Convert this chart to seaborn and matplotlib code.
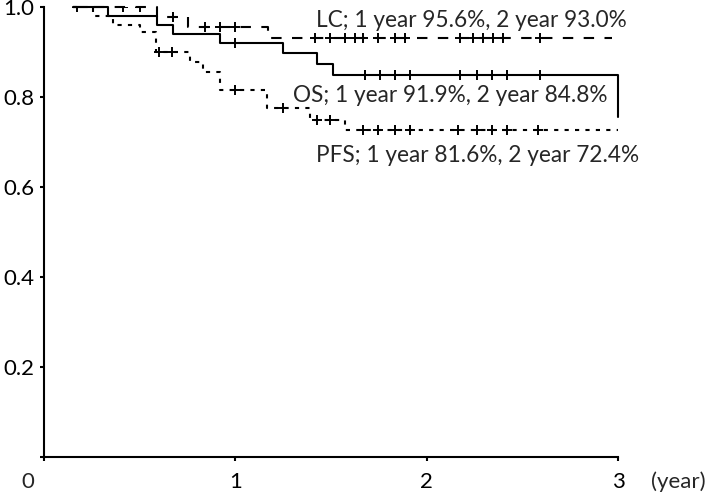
import numpy as np
import pandas as pd
import matplotlib
matplotlib.use("Agg")
import matplotlib.pyplot as plt
import seaborn as sns

# Kaplan-Meier steps (time in years, survival after the step)
os_time = [0.15, 0.335, 0.59, 0.674, 0.92, 1.249, 1.427, 1.51, 3.0]
os_surv = [1.0, 0.98, 0.96, 0.941, 0.919, 0.897, 0.873, 0.848, 0.756]
os_cens = [0.172, 0.998, 1.678, 1.756, 1.835, 1.913, 2.175, 2.263, 2.342, 2.42, 2.593]

lc_time = [0.15, 0.59, 0.753, 1.171, 2.97]
lc_surv = [1.0, 0.978, 0.956, 0.93, 0.93]
lc_cens = [0.256, 0.413, 0.502, 0.674, 0.842, 0.92, 0.998, 1.417, 1.495, 1.573,
           1.626, 1.668, 1.746, 1.835, 1.887, 2.175, 2.243, 2.295, 2.347, 2.399, 2.593]

pfs_time = [0.15, 0.256, 0.36, 0.502, 0.585, 0.763, 0.831, 0.92, 1.166, 1.39, 1.573, 3.0]
pfs_surv = [1.0, 0.98, 0.96, 0.944, 0.9, 0.878, 0.856, 0.816, 0.776, 0.749, 0.727, 0.727]
pfs_cens = [0.6, 0.669, 0.998, 1.249, 1.427, 1.495, 1.668, 1.746, 1.835, 1.913,
            2.164, 2.263, 2.342, 2.42, 2.582]

labels = {
    "LC": "LC; 1 year 95.6%, 2 year 93.0%",
    "OS": "OS; 1 year 91.9%, 2 year 84.8%",
    "PFS": "PFS; 1 year 81.6%, 2 year 72.4%",
}

sns.set_theme(style="ticks")
plt.rcParams["font.family"] = ["Lato", "DejaVu Sans"]

fig = plt.figure(figsize=(7.09, 4.94), dpi=100)
ax = fig.add_axes([44 / 709, 1 - 457 / 494, (618 - 44) / 709, (457 - 7) / 494])


def step_value(times, surv, t):
    i = np.searchsorted(times, t, side="right") - 1
    return surv[max(i, 0)]


curves = [
    ("LC", lc_time, lc_surv, lc_cens, (5, 5)),
    ("OS", os_time, os_surv, os_cens, None),
    ("PFS", pfs_time, pfs_surv, pfs_cens, (2, 3)),
]

for name, t, s, c, dash in curves:
    df = pd.DataFrame({"time": t, "surv": s})
    kw = dict(color="black", lw=1.5, drawstyle="steps-post", clip_on=False)
    if dash is not None:
        kw["dashes"] = dash
    sns.lineplot(data=df, x="time", y="surv", estimator=None, sort=False, ax=ax, **kw)
    cy = [step_value(t, s, x) for x in c]
    ax.plot(c, cy, linestyle="none", marker="+", ms=7, mew=1.4, color="black")

ax.set_xlim(0, 3)
ax.set_ylim(0, 1.0)
ax.set_xticks([0, 1, 2, 3])
ax.set_xticklabels(["", "1", "2", "3"])
ax.set_yticks([0, 0.2, 0.4, 0.6, 0.8, 1.0])
ax.set_yticklabels(["", "0.2", "0.4", "0.6", "0.8", "1.0"])
ax.set_xlabel("")
ax.set_ylabel("")
ax.tick_params(direction="out", length=3, width=1.5, colors="black",
               labelsize=16, pad=4)
ax.tick_params(axis="x", pad=8)
for sp in ["top", "right"]:
    ax.spines[sp].set_visible(False)
for sp in ["left", "bottom"]:
    ax.spines[sp].set_linewidth(1.5)
    ax.spines[sp].set_color("black")

# corner zero and unit label
ax.text(-0.085, -0.033, "0", ha="center", va="top", fontsize=16, clip_on=False)
ax.text(3.17, -0.033, "(year)", ha="left", va="top", fontsize=16, clip_on=False)

ax.text(1.422, 0.971, labels["LC"], ha="left", va="center", fontsize=16.3)
ax.text(1.302, 0.804, labels["OS"], ha="left", va="center", fontsize=16.3)
ax.text(1.422, 0.671, labels["PFS"], ha="left", va="center", fontsize=16.3)

fig.savefig("out.png", dpi=100)
